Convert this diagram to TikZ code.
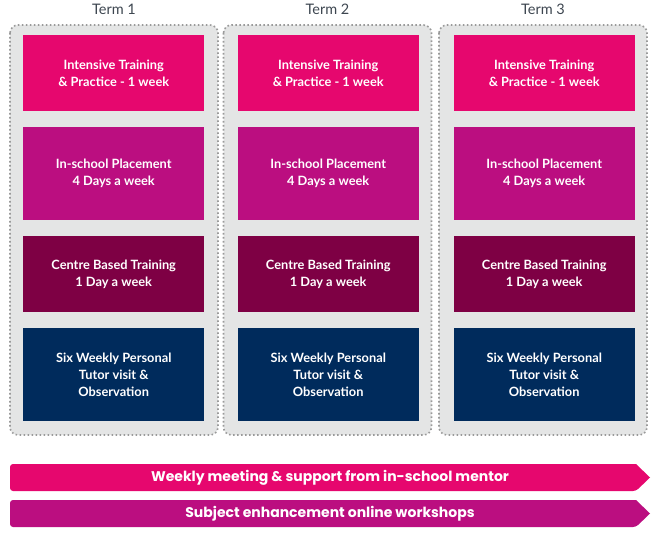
\documentclass[tikz,border=0pt]{standalone}
\usepackage{fontspec}
\setmainfont{Lato}
\newfontfamily\popfont{Poppins}
\usetikzlibrary{shapes.symbols}
\definecolor{cpink}{HTML}{E6076E}
\definecolor{cmag}{HTML}{BB0E80}
\definecolor{cmaroon}{HTML}{7E0044}
\definecolor{cnavy}{HTML}{002B5C}
\definecolor{cpanel}{HTML}{E4E5E5}
\definecolor{cdot}{HTML}{9A9A9A}
\definecolor{cterm}{HTML}{3D4650}
\begin{document}
\begin{tikzpicture}[x=1pt,y=-1pt,
  panel/.style={fill=cpanel,draw=cdot,line width=1.6pt,dash pattern=on 1.6pt off 2.4pt,rounded corners=8pt},
  cell/.style={anchor=north west,minimum width=181pt,inner sep=0pt,align=center,text=white,font=\bfseries\fontsize{12.8}{17}\selectfont},
  termlabel/.style={text=cterm,font=\fontsize{14.5}{16}\selectfont},
  band/.style={text=white,font=\popfont\bfseries\fontsize{14}{16}\selectfont}]
\useasboundingbox (0,0) rectangle (653,534);
\foreach \i/\px/\bx in {1/10/23, 2/223.5/237.5, 3/439/453.5}{
  \draw[panel] (\px,25) rectangle ++(208,410);
  \node[termlabel] (t\i) at (\px+104,9) {Term \i};
  \node[cell,fill=cpink,minimum height=76pt] (a\i) at (\bx,35) {Intensive Training\\ \& Practice - 1 week};
  \node[cell,fill=cmag,minimum height=93pt] (b\i) at (\bx,127) {In-school Placement\\ 4 Days a week};
  \node[cell,fill=cmaroon,minimum height=76pt] (c\i) at (\bx,236) {Centre Based Training\\ 1 Day a week};
  \node[cell,fill=cnavy,minimum height=93pt] (d\i) at (\bx,328) {Six Weekly Personal\\ Tutor visit \&\\ Observation};
}
\fill[cpink,rounded corners=3pt] (636,464) -- (10,464) -- (10,491) -- (636,491) [sharp corners] -- (650,477.5) -- cycle;
\node[band] (w1) at (330,477.5) {Weekly meeting \& support from in-school mentor};
\fill[cmag,rounded corners=3pt] (636,500) -- (10,500) -- (10,527) -- (636,527) [sharp corners] -- (650,513.5) -- cycle;
\node[band] (w2) at (330,513.5) {Subject enhancement online workshops};
\end{tikzpicture}
\end{document}
